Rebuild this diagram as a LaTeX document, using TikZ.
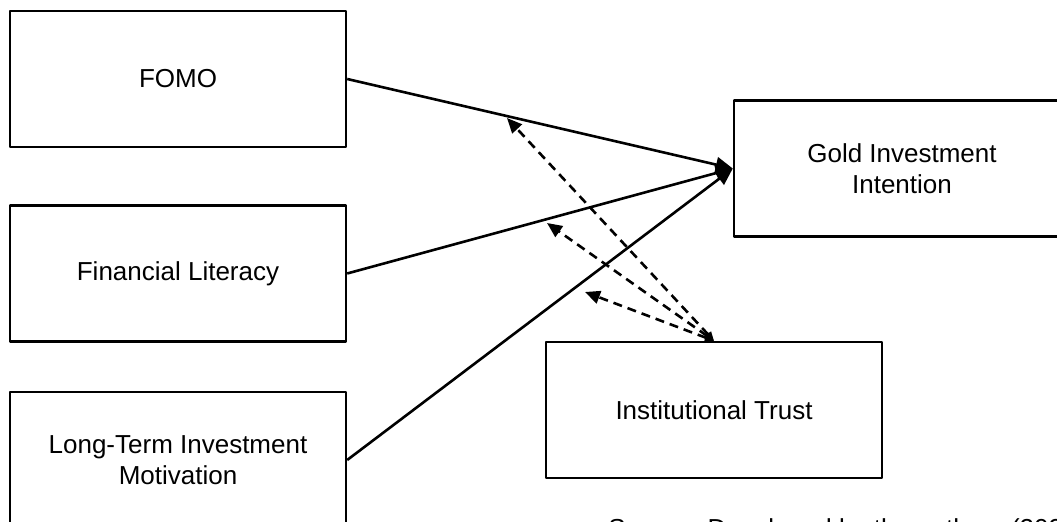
\documentclass[tikz,border=0pt]{standalone}
\usepackage{fontspec}
\setmainfont{Liberation Sans}
\usetikzlibrary{arrows.meta}

\begin{document}
\begin{tikzpicture}[x=0.5pt, y=-0.5pt, line join=round,
  box/.style={draw, line width=1.2pt, minimum width=168pt, minimum height=68pt, align=center, font=\fontsize{13}{15.5}\selectfont},
  effect/.style={line width=1.3pt, -{Triangle[length=8.5pt,width=7.5pt]}},
  moder/.style={line width=1.3pt, dash pattern=on 4.5pt off 3pt, {Triangle[length=4.5pt,width=4pt]}-{Triangle[length=7.5pt,width=6.5pt]}}]
\useasboundingbox (0,0) rectangle (1057,522);
\clip (0,0) rectangle (1057,522);
% constructs
\node[box] (fomo) at (178,79) {FOMO};
\node[box] (finlit) at (178,273.5) {Financial Literacy};
\node[box] (ltim) at (178,460) {Long-Term Investment\\Motivation};
\node[box] (gold) at (902,168.5) {Gold Investment\\Intention};
\node[box] (trust) at (714,410) {Institutional Trust};
% direct paths
\draw[effect] (fomo.east) -- (gold.west);
\draw[effect] (finlit.east) -- (gold.west);
\draw[effect] (ltim.east) -- (gold.west);
% moderation
\coordinate (m1) at (507,118);
\coordinate (m2) at (547,223);
\coordinate (m3) at (585,292);
\draw[moder] (trust.north) -- (m1);
\draw[moder] (trust.north) -- (m2);
\draw[moder] (trust.north) -- (m3);
\node[anchor=base west, inner sep=0pt, font=\fontsize{13}{15.5}\selectfont] (src) at (608,538) {Source: Developed by the authors (2025)};
\end{tikzpicture}
\end{document}
